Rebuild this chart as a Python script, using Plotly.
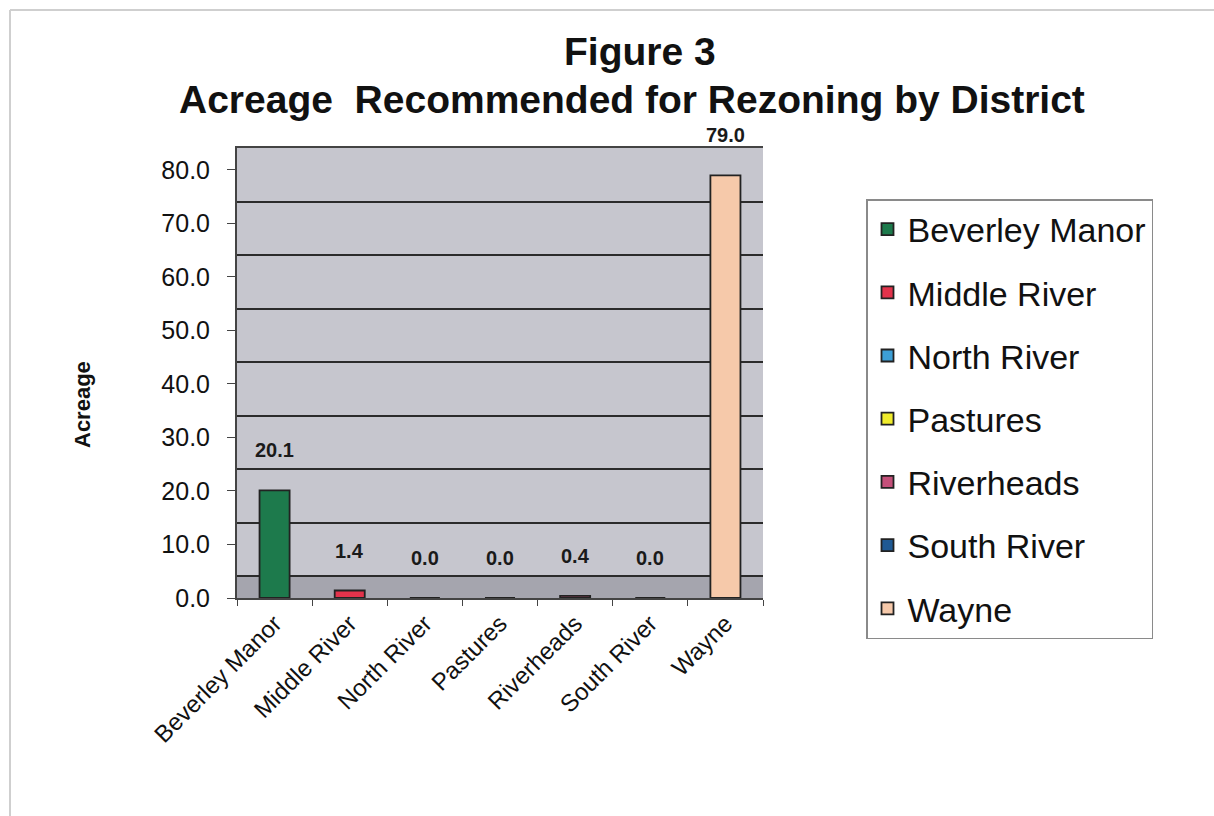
import plotly.graph_objects as go

# ---- data ----
districts = ["Beverley Manor", "Middle River", "North River", "Pastures",
             "Riverheads", "South River", "Wayne"]
acreage = [20.1, 1.4, 0.0, 0.0, 0.4, 0.0, 79.0]
y_ticks = [0, 10, 20, 30, 40, 50, 60, 70, 80]

# ---- styles ----
bar_colors = ["#1d7a4c", "#e2334b", "#3d9fd6", "#f0ec2c",
              "#c4507a", "#1f5993", "#f6c9aa"]
FONT = "Liberation Sans, Arial, sans-serif"
W, H = 1214, 816
L, R, T, B = 237, 763, 148, 598   # plot area in pixels
WALL_SHIFT = 4.1                  # pseudo-3D depth offset of the back wall (axis units)


def px(xp):
    return (xp - L) / (R - L)


def py(yp):
    return (B - yp) / (B - T)


y_top = y_ticks[-1] + WALL_SHIFT

fig = go.Figure()
for name, val, col in zip(districts, acreage, bar_colors):
    fig.add_trace(go.Bar(
        x=[name], y=[val], name=name, legendgroup=name,
        marker=dict(color=col, line=dict(color="#222222", width=1.8)),
        width=0.4, hoverinfo="x+y",
    ))

annotations = []
for name, val in zip(districts, acreage):
    annotations.append(dict(
        x=name, y=val, xref="x", yref="y", text=f"{val:.1f}",
        showarrow=False, yanchor="bottom", yshift=27,
        font=dict(family=FONT, size=20, color="#1a1a1a", weight="bold"),
    ))

# titles
annotations.append(dict(
    x=px(640), y=py(52), xref="paper", yref="paper", text="<b>Figure 3</b>",
    showarrow=False, xanchor="center", yanchor="middle",
    font=dict(family=FONT, size=39, color="#111")))
annotations.append(dict(
    x=px(632), y=py(99), xref="paper", yref="paper",
    text="<b>Acreage&nbsp; Recommended for Rezoning by District</b>",
    showarrow=False, xanchor="center", yanchor="middle",
    font=dict(family=FONT, size=39, color="#111")))
annotations.append(dict(
    x=px(82), y=py(405), xref="paper", yref="paper", text="<b>Acreage</b>",
    showarrow=False, textangle=-90, xanchor="center", yanchor="middle",
    font=dict(family=FONT, size=22, color="#111")))

shapes = [
    # floor of the pseudo-3D chart
    dict(type="rect", xref="paper", yref="y2", x0=0, x1=1, y0=-WALL_SHIFT, y1=0,
         fillcolor="#a5a5ae", line=dict(width=0), layer="below"),
    # outer frame (top / left of the scanned page)
    dict(type="line", xref="paper", yref="paper", x0=px(10), x1=px(1214),
         y0=py(10), y1=py(10), line=dict(color="#cfcfcf", width=2)),
    dict(type="line", xref="paper", yref="paper", x0=px(10), x1=px(10),
         y0=py(10), y1=py(816), line=dict(color="#cfcfcf", width=2)),
]

fig.update_layout(
    width=W, height=H,
    margin=dict(l=L, r=W - R, t=T, b=H - B, autoexpand=False),
    paper_bgcolor="white", plot_bgcolor="#c6c6ce",
    barmode="overlay",
    font=dict(family=FONT, color="#111"),
    showlegend=True,
    legend=dict(
        x=px(866), y=py(199), xanchor="left", yanchor="top",
        bgcolor="white", bordercolor="#8a8a8a", borderwidth=1.5,
        font=dict(family=FONT, size=34, color="#111"),
        tracegroupgap=16, traceorder="grouped",
    ),
    xaxis=dict(
        showline=True, linecolor="#444", linewidth=2, mirror=True,
        ticks="outside", tickson="boundaries", ticklen=6, tickcolor="#444",
        tickangle=-45, tickfont=dict(family=FONT, size=24, color="#111"),
        showgrid=False, fixedrange=True,
    ),
    yaxis=dict(
        range=[0, y_top], tickvals=y_ticks, tickformat=".1f",
        showline=True, linecolor="#444", linewidth=2,
        ticks="outside", ticklen=8, tickcolor="#444", ticklabelstandoff=12,
        tickfont=dict(family=FONT, size=25, color="#111"),
        showgrid=False, zeroline=False, fixedrange=True,
    ),
    yaxis2=dict(
        overlaying="y", anchor="x", side="right",
        range=[-WALL_SHIFT, y_top - WALL_SHIFT], tickvals=y_ticks,
        showticklabels=False, ticks="", showgrid=True,
        gridcolor="#2b2b2b", gridwidth=2, zeroline=False, showline=False,
        fixedrange=True,
    ),
    annotations=annotations,
    shapes=shapes,
)

fig.write_html("out.html")
